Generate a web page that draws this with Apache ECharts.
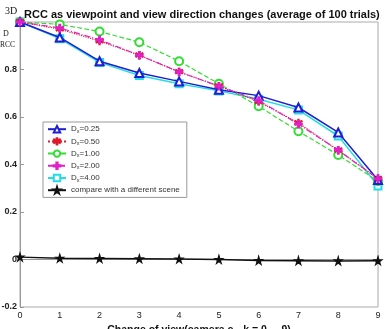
<!DOCTYPE html>
<html><head><meta charset="utf-8">
<script src="https://cdn.jsdelivr.net/npm/echarts@6/dist/echarts.min.js"></script>
<style>html,body{margin:0;padding:0;background:#fff}#c{width:387px;height:329px}</style>
</head><body><div id="c"></div>
<script>
const categories = [0,1,2,3,4,5,6,7,8,9];
const seriesNames = ['0.25','0.50','1.00','2.00','4.00','compare with a different scene'];
const d025 = [1.0,0.935,0.835,0.785,0.75,0.715,0.69,0.64,0.535,0.335];
const d050 = [1.0,0.97,0.92,0.86,0.79,0.73,0.665,0.575,0.46,0.34];
const d100 = [1.0,0.99,0.96,0.915,0.835,0.74,0.645,0.54,0.44,0.33];
const d200 = [1.0,0.975,0.925,0.86,0.79,0.73,0.67,0.57,0.46,0.34];
const d400 = [1.0,0.93,0.83,0.775,0.74,0.71,0.675,0.63,0.52,0.31];
const dcmp = [0.01,0.005,0.004,0.003,0.002,0.0,-0.004,-0.005,-0.006,-0.005];
const yTicks = [-0.2,0,0.2,0.4,0.6,0.8,1.0];

const star = 'path://M50,0 L61,35 L98,35 L68,57 L79,91 L50,70 L21,91 L32,57 L2,35 L39,35 Z';
const plus = 'path://M40,0 L60,0 L60,40 L100,40 L100,60 L60,60 L60,100 L40,100 L40,60 L0,60 L0,40 L40,40 Z';
const aster = 'path://M45,0 L55,0 L55,38 L88,19 L93,28 L60,47 L93,66 L88,75 L55,56 L55,100 L45,100 L45,56 L12,75 L7,66 L40,47 L7,28 L12,19 L45,38 Z';

function mk(name, data, color, symbol, size, type, width, z){
  return {name, type:'line', data: data.map((v,i)=>[categories[i], v]), symbol, symbolSize:size,
    itemStyle:{color: color, borderColor: color, borderWidth:1.5},
    lineStyle:{color, width, type}, z};
}
const chart = echarts.init(document.getElementById('c'));
chart.setOption({
  animation:false,
  title:{text:'RCC as viewpoint and view direction changes (average of 100 trials)', left:19, top:4,
    textStyle:{fontFamily:'Liberation Sans, Arial', fontWeight:'bold', fontSize:11, color:'#111'}},
  grid:{left:20, right:9, top:22, bottom:22, show:true, borderColor:'#aaa', borderWidth:1,
    containLabel:false, outerBoundsMode:'none'},
  legend:{left:43, top:122, orient:'vertical', itemGap:3, itemWidth:18, itemHeight:8,
    backgroundColor:'#fff', borderColor:'#999', borderWidth:1, padding:[3,7,3,4],
    textStyle:{fontSize:8, color:'#333', fontFamily:'Liberation Sans, Arial',
      rich:{s:{fontSize:5.5, verticalAlign:'bottom', padding:[4,0,0,0], color:'#333'}}},
    formatter: n => n.startsWith('compare') ? n : 'D{s|x}=' + n,
    data: seriesNames},
  xAxis:{type:'value', min:0, max:9, interval:1,
    axisLine:{lineStyle:{color:'#999'}}, axisTick:{inside:true, length:4, lineStyle:{color:'#999'}},
    splitLine:{show:false},
    axisLabel:{fontSize:9, color:'#222', fontFamily:'Liberation Sans, Arial', margin:4},
    name:'Change of view(camera c\u2096, k = 0 ... 9)', nameLocation:'middle', nameGap:14,
    nameTextStyle:{fontSize:10.5, fontWeight:'bold', color:'#111', fontFamily:'Liberation Sans, Arial', verticalAlign:'top'}},
  yAxis:{type:'value', min:-0.2, max:1.0, interval:0.2,
    axisLine:{show:true, lineStyle:{color:'#999'}}, axisTick:{show:true, inside:true, length:4, lineStyle:{color:'#999'}},
    splitLine:{show:false},
    axisLabel:{fontSize:9, fontWeight:'bold', color:'#222', fontFamily:'Liberation Sans, Arial', margin:3,
      formatter: v => Math.abs(v-1)<1e-9 ? '' : (Math.abs(v)<1e-9 ? '0' : v.toFixed(1))}},
  graphic:[
    {type:'text', left:5, top:6, style:{text:'3D', fontSize:10, fontFamily:'Liberation Serif, Times New Roman', fill:'#111'}},
    {type:'text', left:3, top:30, style:{text:'D', fontSize:8, fontFamily:'Liberation Serif', fill:'#222'}},
    {type:'text', left:0, top:41, style:{text:'RCC', fontSize:7.5, fontFamily:'Liberation Serif', fill:'#222'}}
  ],
  series:[
    mk(seriesNames[0], d025, '#1f1fd0', 'emptyTriangle', 8, 'solid', 1.5, 5),
    mk(seriesNames[1], d050, '#e01a2a', aster, 7, 'dotted', 1.2, 4),
    mk(seriesNames[2], d100, '#33dd33', 'emptyCircle', 8, 'dashed', 1.2, 3),
    mk(seriesNames[3], d200, '#e020c8', plus, 7, [6,2,1,2], 1.2, 6),
    mk(seriesNames[4], d400, '#22dde8', 'emptyRect', 7, 'solid', 1.5, 2),
    mk(seriesNames[5], dcmp, '#111', star, 7, 'solid', 1.5, 7)
  ]
});
</script></body></html>
